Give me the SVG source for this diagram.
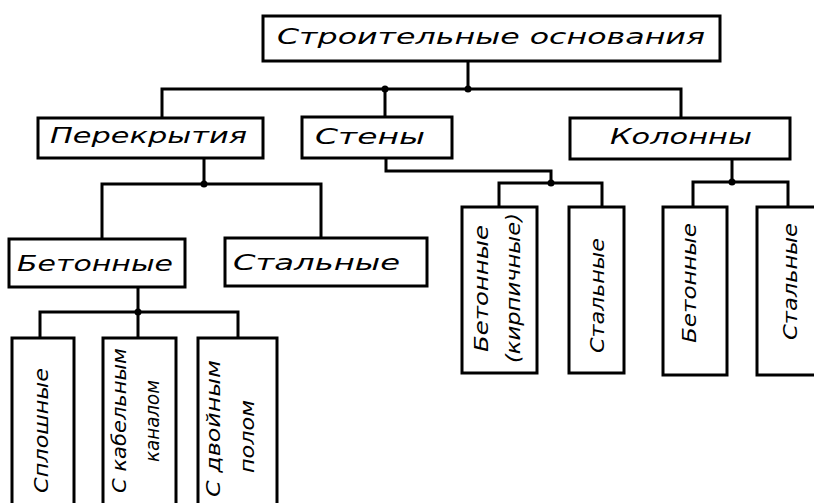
<svg xmlns="http://www.w3.org/2000/svg" width="814" height="503" viewBox="0 0 814 503">
<style>
.box{fill:#fff;stroke:#000;stroke-width:3}
.ln{fill:none;stroke:#000;stroke-width:3;stroke-linejoin:miter;stroke-linecap:square}
.dot{fill:#000}
text{font-family:"DejaVu Sans","Liberation Sans",sans-serif;font-style:italic;fill:#000}
.h{font-size:21px}
.v{font-size:20px}
</style>
<rect width="814" height="503" fill="#fff"/>
<g id="connectors">
<path class="ln" d="M468,61V89M162,118V89H681V118M385,89V117"/>
<path class="ln" d="M204,158V184M102,239V184H321V238"/>
<path class="ln" d="M138,287V312M40,338V312H238V338M138,312V338"/>
<path class="ln" d="M386,158V171H551V183M499,207V183H602V207"/>
<path class="ln" d="M732,159V182M693,207V182H788V207"/>
<circle class="dot" cx="468" cy="89" r="3.5"/>
<circle class="dot" cx="385" cy="89" r="3.5"/>
<circle class="dot" cx="204" cy="184" r="3.5"/>
<circle class="dot" cx="138" cy="312" r="3.5"/>
<circle class="dot" cx="551" cy="183" r="3.5"/>
<circle class="dot" cx="732" cy="182" r="3.5"/>
</g>
<g id="root"><rect class="box" x="263" y="16" width="457" height="45"/><text x="277" y="44" font-size="22" textLength="428" lengthAdjust="spacingAndGlyphs">Строительные основания</text></g>
<g id="perekrytiya"><rect class="box" x="38" y="118" width="225" height="40"/><text class="h" x="50" y="143" textLength="197" lengthAdjust="spacingAndGlyphs">Перекрытия</text></g>
<g id="steny"><rect class="box" x="302" y="117" width="150" height="41"/><text class="h" x="315" y="144" textLength="110" lengthAdjust="spacingAndGlyphs">Стены</text></g>
<g id="kolonny"><rect class="box" x="570" y="118" width="220" height="41"/><text class="h" x="610" y="144" textLength="142" lengthAdjust="spacingAndGlyphs">Колонны</text></g>
<g id="perekr-beton"><rect class="box" x="9" y="239" width="176" height="48"/><text class="h" x="17" y="271" textLength="156" lengthAdjust="spacingAndGlyphs">Бетонные</text></g>
<g id="perekr-stal"><rect class="box" x="225" y="238" width="202" height="48"/><text class="h" x="233" y="270" textLength="167" lengthAdjust="spacingAndGlyphs">Стальные</text></g>
<g id="steny-beton"><rect class="box" x="462" y="207" width="75" height="166"/><text class="v" transform="translate(488,352) rotate(-90)" textLength="127" lengthAdjust="spacingAndGlyphs">Бетонные</text><text class="v" transform="translate(520,363) rotate(-90)" textLength="150" lengthAdjust="spacingAndGlyphs">(кирпичные)</text></g>
<g id="steny-stal"><rect class="box" x="569" y="207" width="55" height="166"/><text class="v" transform="translate(604,353) rotate(-90)" textLength="115" lengthAdjust="spacingAndGlyphs">Стальные</text></g>
<g id="kolonny-beton"><rect class="box" x="663" y="207" width="64" height="168"/><text class="v" transform="translate(696,343) rotate(-90)" textLength="120" lengthAdjust="spacingAndGlyphs">Бетонные</text></g>
<g id="kolonny-stal"><rect class="box" x="757" y="207" width="63" height="168"/><text class="v" transform="translate(797,340) rotate(-90)" textLength="117" lengthAdjust="spacingAndGlyphs">Стальные</text></g>
<g id="sploshnye"><rect class="box" x="12" y="338" width="62" height="172"/><text class="v" transform="translate(48,493) rotate(-90)" textLength="125" lengthAdjust="spacingAndGlyphs">Сплошные</text></g>
<g id="kabel"><rect class="box" x="103" y="338" width="73" height="172"/><text class="v" transform="translate(126,493) rotate(-90)" textLength="145" lengthAdjust="spacingAndGlyphs">С кабельным</text><text class="v" transform="translate(159,462) rotate(-90)" textLength="82" lengthAdjust="spacingAndGlyphs">каналом</text></g>
<g id="dvoinoy"><rect class="box" x="198" y="338" width="79" height="172"/><text class="v" transform="translate(220,497) rotate(-90)" textLength="137" lengthAdjust="spacingAndGlyphs">С двойным</text><text class="v" transform="translate(254,473) rotate(-90)" textLength="73" lengthAdjust="spacingAndGlyphs">полом</text></g>
</svg>
